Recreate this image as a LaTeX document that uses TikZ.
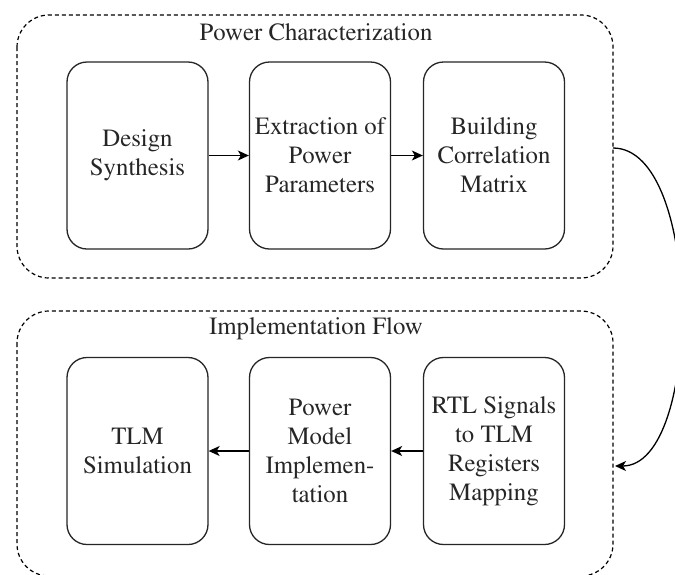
\documentclass[tikz,border=0pt]{standalone}
\usepackage[T1]{fontenc}
\renewcommand{\rmdefault}{ptm}
\usetikzlibrary{arrows.meta}
\begin{document}
\begin{tikzpicture}[x=1pt,y=-1pt,
  every node/.style={font=\rmfamily\fontsize{24.8}{29}\selectfont, text=black!85},
  group/.style={draw=black, line width=1.2pt, dash pattern=on 4pt off 3pt, rounded corners=32pt},
  stage/.style={draw=black!85, line width=1.3pt, rounded corners=20pt, minimum width=141pt, minimum height=187pt, align=center, inner sep=0pt},
  flow/.style={draw=black, line width=1.3pt, -{Stealth[length=11pt,width=10pt,inset=3pt]}},
  title/.style={inner sep=0pt}]
\useasboundingbox (0,0) rectangle (675,574);
\path[fill=white] (0,0) rectangle (675,574);
% groups
\draw[group] (17,15) rectangle (613,278);
\draw[group] (17,311) rectangle (613,576);
\coordinate (gtopR) at (613,148);
\coordinate (gbotR) at (615,466);
\node[title] (t1) at (316,32) {Power Characterization};
\node[title] (t2) at (316,329) {Implementation Flow};
% top row
\node[stage] (ds) at (137.5,155.5) {Design\\Synthesis};
\node[stage] (ep) at (320,155.5) {Extraction of\\Power\\Parameters};
\node[stage] (bc) at (494,155.5) {Building\\Correlation\\Matrix};
% bottom row
\node[stage] (ts) at (137.5,451) {TLM\\Simulation};
\node[stage] (pm) at (320,451) {Power\\Model\\Implemen-\\tation};
\node[stage] (rt) at (494,451) {RTL Signals\\to TLM\\Registers\\Mapping};
\draw[flow] (ds) -- (ep);
\draw[flow] (ep) -- (bc);
\draw[flow] (rt) -- (pm);
\draw[flow] (pm) -- (ts);
\draw[flow] (gtopR) .. controls (703,148) and (703,466) .. (gbotR);
\end{tikzpicture}
\end{document}
